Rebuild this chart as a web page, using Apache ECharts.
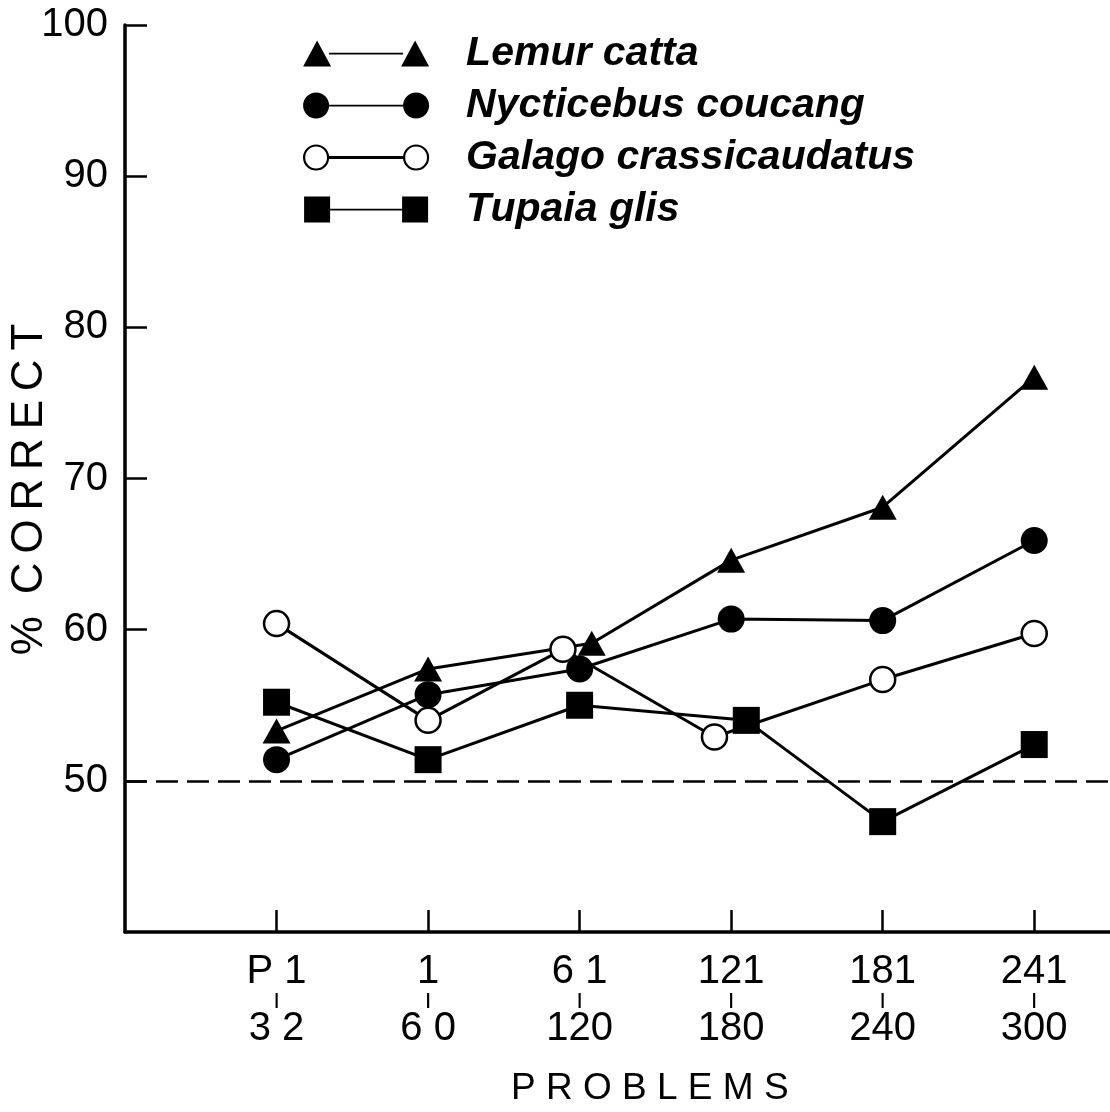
<!DOCTYPE html>
<html>
<head>
<meta charset="utf-8">
<script src="https://cdn.jsdelivr.net/npm/echarts@6/dist/echarts.min.js"></script>
<style>
html,body{margin:0;padding:0;background:#fff;}
#chart{width:1110px;height:1112px;}
</style>
</head>
<body>
<div id="chart"></div>
<script>
// ---- data ----
var tickTop = ['P 1', '1', '6 1', '121', '181', '241'];
var tickBottom = ['3 2', '6 0', '120', '180', '240', '300'];
var yTicks = [50, 60, 70, 80, 90, 100];
var chanceLevel = 50;

var lemurName = 'Lemur catta';
var lemurX = [0, 1, 2.08, 3, 4, 5];
var lemurY = [53.3, 57.4, 59.1, 64.6, 68.1, 76.7];

var nycName = 'Nycticebus coucang';
var nycX = [0, 1, 2, 3, 4, 5];
var nycY = [51.4, 55.7, 57.4, 60.7, 60.6, 65.9];

var galName = 'Galago crassicaudatus';
var galX = [0, 1, 1.89, 2.89, 4, 5];
var galY = [60.4, 54.0, 58.7, 52.9, 56.7, 59.75];

var tupName = 'Tupaia glis';
var tupX = [0, 1, 2, 3.1, 4, 5];
var tupY = [55.2, 51.4, 55.0, 54.0, 47.3, 52.4];

function pairs(xs, ys) { return xs.map(function (x, i) { return [x, ys[i]]; }); }

var FONT = 'Liberation Sans, Arial, Helvetica, sans-serif';
var ink = '#000';

var iconTri = 'path://M0 26L14 0L28 26Z M98 26L112 0L126 26Z M26 12.2H100V14H26Z';
var iconCirc = 'path://M0 13A13 13 0 1 1 26 13A13 13 0 1 1 0 13Z M100 13A13 13 0 1 1 126 13A13 13 0 1 1 100 13Z M26 12.2H100V14H26Z';
var iconOpen = 'path://M1 13A12 12 0 1 1 25 13A12 12 0 1 1 1 13Z M101 13A12 12 0 1 1 125 13A12 12 0 1 1 101 13Z M25 12.6H101V13.4H25Z M0 13H0.01 M126 13H126.01';
var iconSq = 'path://M1 0H27V26H1Z M99 0H125V26H99Z M27 12.2H99V14H27Z M0 13H0.01 M126 13H126.01';

var lineW = 3;
function mkSeries(name, xs, ys, symbol, size, itemStyle) {
  return {
    name: name,
    type: 'line',
    data: pairs(xs, ys),
    symbol: symbol,
    symbolSize: size,
    showAllSymbol: true,
    lineStyle: { color: ink, width: lineW },
    itemStyle: itemStyle,
    emphasis: { disabled: true },
    animation: false
  };
}

var series = [
  mkSeries(tupName, tupX, tupY, 'rect', 27, { color: ink }),
  mkSeries(galName, galX, galY, 'circle', 25, { color: '#fff', borderColor: ink, borderWidth: 2.5 }),
  mkSeries(nycName, nycX, nycY, 'circle', 27, { color: ink }),
  mkSeries(lemurName, lemurX, lemurY, 'triangle', [28, 25], { color: ink })
];
series[0].markLine = {
  silent: true,
  symbol: 'none',
  label: { show: false },
  lineStyle: { color: ink, width: 2.5, type: [22, 9] },
  data: [{ yAxis: chanceLevel }],
  animation: false
};

var chart = echarts.init(document.getElementById('chart'), null, { renderer: 'canvas' });
chart.setOption({
  backgroundColor: '#fff',
  animation: false,
  grid: { left: 125, right: 0, top: 25, bottom: 180, outerBoundsMode: 'none' },
  legend: {
    orient: 'vertical',
    left: 297,
    top: 28,
    itemWidth: 126,
    itemHeight: 26,
    itemGap: 11,
    selectedMode: false,
    textStyle: {
      fontFamily: FONT, fontSize: 41, fontStyle: 'italic', fontWeight: 'bold',
      color: ink, padding: [0, 0, 0, 32]
    },
    data: [
      { name: lemurName, icon: iconTri, itemStyle: { color: ink } },
      { name: nycName, icon: iconCirc, itemStyle: { color: ink } },
      { name: galName, icon: iconOpen, itemStyle: { color: '#fff', borderColor: ink, borderWidth: 2.2 } },
      { name: tupName, icon: iconSq, itemStyle: { color: ink } }
    ]
  },
  xAxis: {
    type: 'value',
    min: -1,
    max: 5.5,
    interval: 1,
    splitLine: { show: false },
    axisLine: { show: true, onZero: false, lineStyle: { color: ink, width: 3.5 } },
    axisTick: { show: true, inside: true, length: 22, lineStyle: { color: ink, width: 2.5 }, customValues: [0, 1, 2, 3, 4, 5] },
    axisLabel: {
      show: true,
      margin: 24,
      customValues: [0, 1, 2, 3, 4, 5],
      formatter: function (v) {
        var i = Math.round(v);
        return '{a|' + tickTop[i] + '}\n{b||}\n{a|' + tickBottom[i] + '}';
      },
      rich: {
        a: { fontFamily: FONT, fontSize: 40, lineHeight: 32, color: ink, align: 'center' },
        b: { fontFamily: FONT, fontSize: 17, fontWeight: 'bold', lineHeight: 25, color: ink, align: 'center' }
      }
    }
  },
  yAxis: {
    type: 'value',
    min: 40,
    max: 100,
    interval: 10,
    splitLine: { show: false },
    axisLine: { show: true, onZero: false, lineStyle: { color: ink, width: 3.5 } },
    axisTick: { show: true, inside: true, length: 22, lineStyle: { color: ink, width: 2.5 }, customValues: yTicks },
    axisLabel: {
      show: true,
      margin: 17,
      customValues: yTicks,
      fontFamily: FONT, fontSize: 40, color: ink
    },
    name: '%\u2002C\u2009O\u2009R\u2009R\u2009E\u2009C\u2009T\u2002',
    nameLocation: 'middle',
    nameRotate: 90,
    nameGap: 73,
    nameMoveOverlap: false,
    nameTextStyle: { fontFamily: FONT, fontSize: 44, color: ink }
  },
  graphic: [{
    type: 'text',
    left: 511,
    top: 1070,
    style: { text: 'P R O B L E M S', fontFamily: FONT, fontSize: 37, fill: ink }
  }],
  series: series
});
</script>
</body>
</html>
